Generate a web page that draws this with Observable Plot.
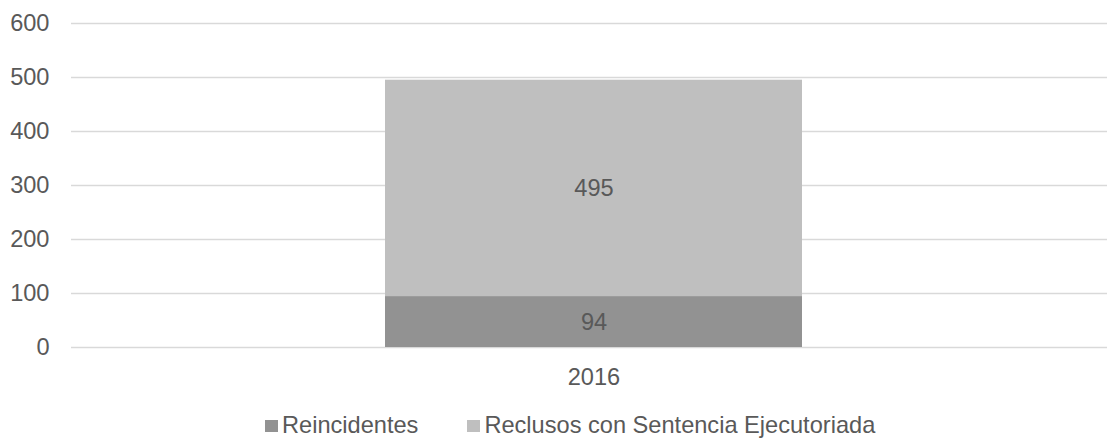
<!DOCTYPE html>
<html>
<head>
<meta charset="utf-8">
<script src="https://cdn.jsdelivr.net/npm/d3@7"></script>
<script src="https://cdn.jsdelivr.net/npm/@observablehq/plot@0.6"></script>
<style>
  html, body { margin: 0; padding: 0; background: #fff; }
  body { position: relative; width: 1107px; height: 438px; overflow: hidden; font-family: "Liberation Sans", Arial, sans-serif; }
  #chart { position: absolute; left: 0; top: 0; }
  #legend { position: absolute; left: 265px; top: 412px; display: flex; align-items: center; color: #595959; font-size: 23.6px; line-height: 1.15; white-space: nowrap; }
  .item { display: flex; align-items: center; }
  .item + .item { margin-left: 49px; }
  .sw { width: 13px; height: 12px; margin-right: 4px; }
</style>
</head>
<body>
<div id="chart"></div>
<div id="legend"></div>
<script>
const years = ["2016"];
const reincidentes = [94];
const reclusos = [495];
const seriesNames = ["Reincidentes", "Reclusos con Sentencia Ejecutoriada"];
const seriesColors = ["#929292", "#bfbfbf"];
const yTicks = [0, 100, 200, 300, 400, 500, 600];

const rows = years.map((y, i) => ({year: y, reinc: reincidentes[i], recl: reclusos[i]}));

const textColor = "#595959";
const fs = 23.6;

const chart = Plot.plot({
  width: 1107,
  height: 410,
  marginTop: 23,
  marginBottom: 63,
  marginLeft: 71,
  marginRight: 0,
  style: {fontFamily: "'Liberation Sans', Arial, sans-serif", fontSize: fs + "px", color: textColor, background: "#fff", overflow: "visible"},
  x: {domain: years, range: [71, 1115], paddingInner: 0, paddingOuter: 0.749, label: null},
  y: {domain: [0, 600], ticks: yTicks, label: null},
  marks: [
    Plot.ruleY(yTicks, {stroke: "#d9d9d9", strokeWidth: 1.3}),
    Plot.barY(rows, {x: "year", y1: 0, y2: "recl", fill: seriesColors[1]}),
    Plot.barY(rows, {x: "year", y1: 0, y2: "reinc", fill: seriesColors[0]}),
    Plot.text(rows, {x: "year", y: d => (d.reinc + d.recl) / 2, text: d => String(d.recl), fill: textColor, fontSize: fs}),
    Plot.text(rows, {x: "year", y: d => d.reinc / 2, text: d => String(d.reinc), fill: textColor, fontSize: fs}),
    Plot.axisY({ticks: yTicks, tickSize: 0, tickPadding: 22, fontSize: fs, color: textColor, label: null}),
    Plot.axisX({tickSize: 0, tickPadding: 21, fontSize: fs, color: textColor, label: null})
  ]
});
document.getElementById("chart").appendChild(chart);

const legend = document.getElementById("legend");
seriesNames.forEach((name, i) => {
  const item = document.createElement("div");
  item.className = "item";
  const sw = document.createElement("div");
  sw.className = "sw";
  sw.style.background = seriesColors[i];
  const label = document.createElement("span");
  label.textContent = name;
  item.appendChild(sw);
  item.appendChild(label);
  legend.appendChild(item);
});
</script>
</body>
</html>
